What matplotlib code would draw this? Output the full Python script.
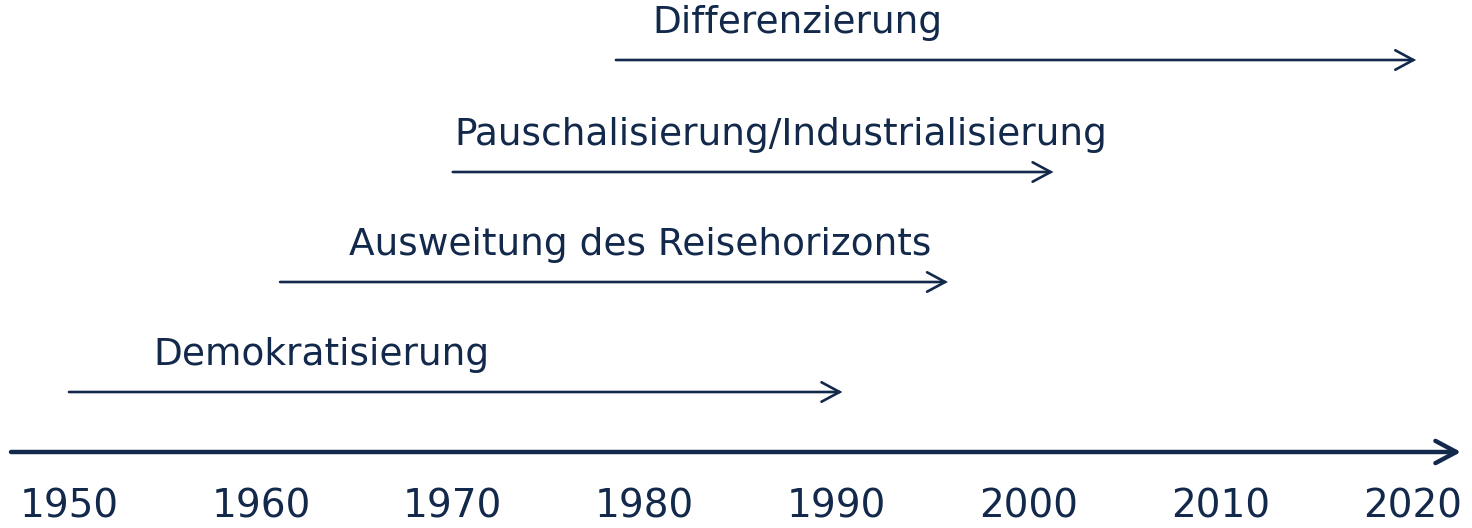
import matplotlib
matplotlib.use("Agg")
import matplotlib.pyplot as plt

# ---- data ----
phases = ["Demokratisierung", "Ausweitung des Reisehorizonts",
          "Pauschalisierung/Industrialisierung", "Differenzierung"]
phase_start = [1950, 1961, 1970, 1978.5]
phase_end = [1990.3, 1995.8, 2001.3, 2020.2]
years = [1950, 1960, 1970, 1980, 1990, 2000, 2010, 2020]

# ---- layout ----
navy = "#13294B"
plt.rcParams['font.family'] = ['DejaVu Sans']
W, H = 1472, 528
fig = plt.figure(figsize=(W / 100, H / 100), dpi=100)
ax = fig.add_axes([0, 0, 1, 1])
px_per_year = 19.19
x0 = 1950 - 69 / px_per_year
ax.set_xlim(x0, x0 + W / px_per_year)
ax.set_ylim(H, 0)
ax.axis("off")

row_y = [392, 282, 172, 60]          # arrow heights (pixels from top)
label_x = [1954.4, 1964.6, 1970.1, 1980.4]  # left edge of labels
label_dy = 37                         # label centre above arrow

for name, s, e, y, lx in zip(phases, phase_start, phase_end, row_y, label_x):
    ax.annotate("", xy=(e, y), xytext=(s, y),
                arrowprops=dict(arrowstyle="->,head_length=1.3,head_width=0.7",
                                color=navy, lw=1.9, shrinkA=0, shrinkB=0,
                                mutation_scale=10, joinstyle="miter"))
    ax.text(lx, y - label_dy, name, ha="left", va="center",
            fontsize=27, color=navy)

# main time axis
axis_start = x0 + 11 / px_per_year
axis_end = x0 + 1461 / px_per_year
ax.annotate("", xy=(axis_end, 452), xytext=(axis_start, 452),
            arrowprops=dict(arrowstyle="->,head_length=1.5,head_width=0.8",
                            color=navy, lw=3.2, shrinkA=0, shrinkB=0,
                            mutation_scale=10))

for yr in years:
    ax.text(yr, 507, str(yr), ha="center", va="center",
            fontsize=28, color=navy)

fig.savefig("out.png", dpi=100)
